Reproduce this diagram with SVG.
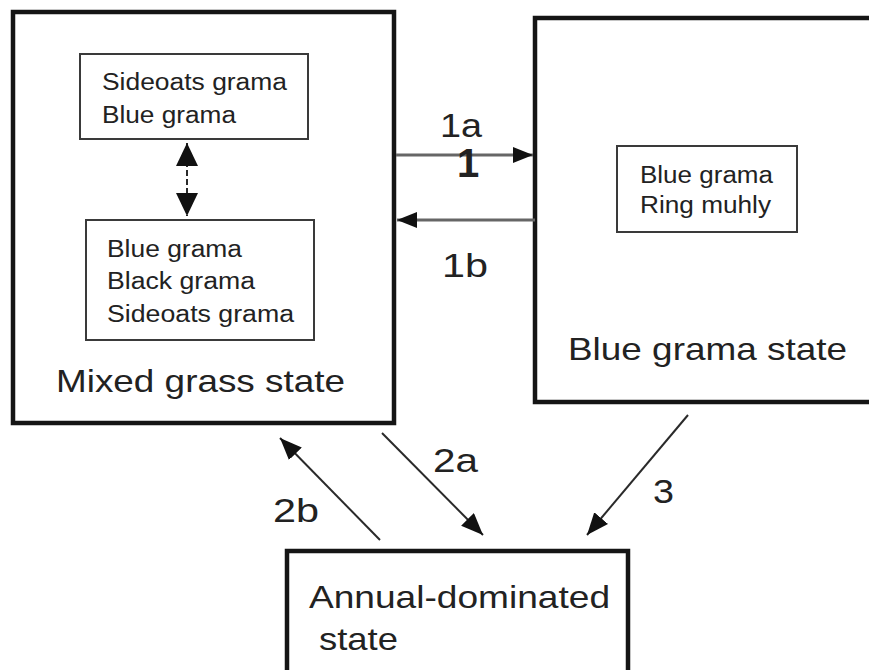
<svg xmlns="http://www.w3.org/2000/svg" width="869" height="670" viewBox="0 0 869 670">
<defs>
<style>
.state{fill:#fff;stroke:#151515;stroke-width:4.5}
.inner{fill:#fff;stroke:#3a3a3a;stroke-width:2}
.t{font-family:"Liberation Sans",Arial,sans-serif;fill:#222}
.sm{font-size:23px}
.big{font-size:32px}
.lab{font-size:34px}
.conn{stroke:#2a2a2a;stroke-width:2;fill:none}
.horiz{stroke:#666;stroke-width:3;fill:none}
</style>
<marker id="ah" markerUnits="userSpaceOnUse" markerWidth="24" markerHeight="20" refX="22" refY="9" orient="auto">
<path d="M0,0 L22,9 L0,18 z" fill="#111"/>
</marker>
<marker id="ahh" markerUnits="userSpaceOnUse" markerWidth="24" markerHeight="20" refX="20" refY="8" orient="auto">
<path d="M0,0 L20,8 L0,16 z" fill="#111"/>
</marker>
<marker id="ahd" markerUnits="userSpaceOnUse" markerWidth="26" markerHeight="26" refX="23" refY="11" orient="auto-start-reverse">
<path d="M0,0 L23,11 L0,22 z" fill="#111"/>
</marker>
</defs>
<rect width="869" height="670" fill="#fff"/>

<g id="mixed-grass-state">
<rect class="state" x="13" y="12" width="381" height="411"/>
<rect class="inner" x="80" y="54" width="228" height="85"/>
<text class="t sm" x="102" y="90" textLength="185" lengthAdjust="spacingAndGlyphs">Sideoats grama</text>
<text class="t sm" x="102" y="123" textLength="134" lengthAdjust="spacingAndGlyphs">Blue grama</text>
<rect class="inner" x="86" y="220" width="228" height="120"/>
<text class="t sm" x="107" y="257" textLength="135" lengthAdjust="spacingAndGlyphs">Blue grama</text>
<text class="t sm" x="107" y="289" textLength="148" lengthAdjust="spacingAndGlyphs">Black grama</text>
<text class="t sm" x="107" y="322" textLength="187" lengthAdjust="spacingAndGlyphs">Sideoats grama</text>
<text class="t big" x="56" y="392" textLength="289" lengthAdjust="spacingAndGlyphs">Mixed grass state</text>
</g>

<g id="blue-grama-state">
<rect class="state" x="535" y="18" width="345" height="384"/>
<rect class="inner" x="617" y="146" width="180" height="86"/>
<text class="t sm" x="640" y="183" textLength="133" lengthAdjust="spacingAndGlyphs">Blue grama</text>
<text class="t sm" x="640" y="213" textLength="131" lengthAdjust="spacingAndGlyphs">Ring muhly</text>
<text class="t big" x="568" y="360" textLength="279" lengthAdjust="spacingAndGlyphs">Blue grama state</text>
</g>

<g id="annual-dominated-state">
<rect class="state" x="287" y="551" width="341" height="130"/>
<text class="t big" x="309" y="608" textLength="301" lengthAdjust="spacingAndGlyphs">Annual-dominated</text>
<text class="t big" x="319" y="650" textLength="79" lengthAdjust="spacingAndGlyphs">state</text>
</g>

<g id="connectors">
<line class="conn" x1="187" y1="143" x2="187" y2="216" stroke-dasharray="6,3" marker-start="url(#ahd)" marker-end="url(#ahd)"/>
<line class="horiz" x1="396" y1="155" x2="533" y2="155" marker-end="url(#ahh)"/>
<line class="horiz" x1="535" y1="220" x2="397" y2="220" marker-end="url(#ahh)"/>
<line class="conn" x1="382" y1="433" x2="483" y2="535" marker-end="url(#ah)"/>
<line class="conn" x1="380" y1="540" x2="280" y2="438" marker-end="url(#ah)"/>
<line class="conn" x1="688" y1="415" x2="587" y2="535" marker-end="url(#ah)"/>
</g>

<g id="labels">
<text class="t lab" x="440" y="137" textLength="42" lengthAdjust="spacingAndGlyphs">1a</text>
<text class="t" x="468" y="177" font-size="40" font-weight="bold" text-anchor="middle" fill="#111">1</text>
<text class="t lab" x="442" y="277" textLength="46" lengthAdjust="spacingAndGlyphs">1b</text>
<text class="t lab" x="433" y="472" textLength="45" lengthAdjust="spacingAndGlyphs">2a</text>
<text class="t lab" x="273" y="522" textLength="46" lengthAdjust="spacingAndGlyphs">2b</text>
<text class="t lab" x="653" y="503" textLength="21" lengthAdjust="spacingAndGlyphs">3</text>
</g>
</svg>
